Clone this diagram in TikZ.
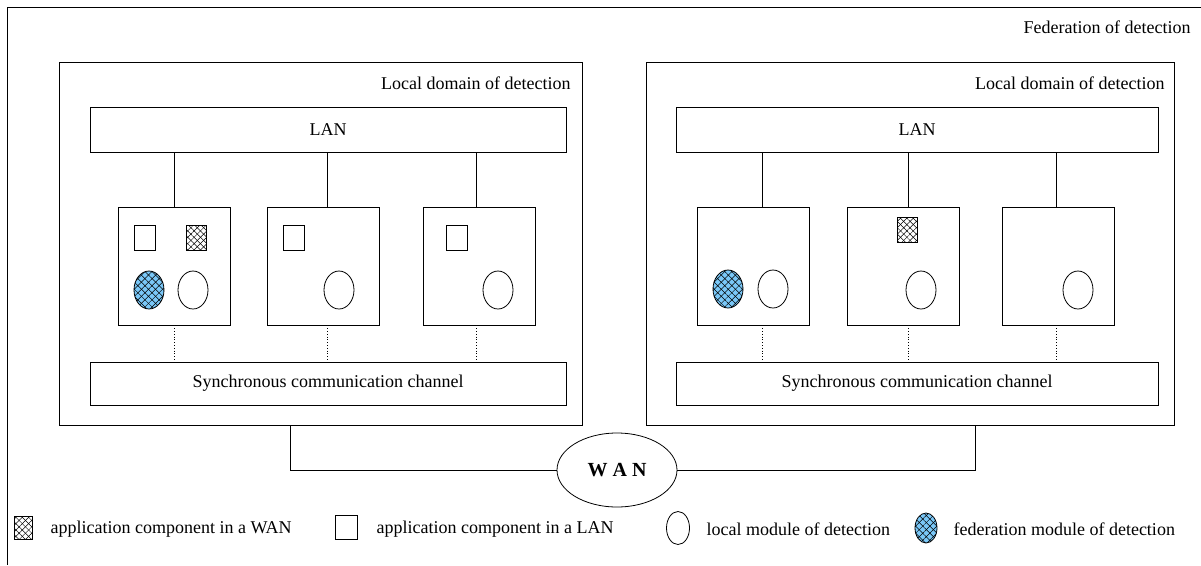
\documentclass[tikz,border=0pt]{standalone}
\usepackage{fontspec}
\setmainfont{Liberation Serif}
\usetikzlibrary{patterns.meta,shapes.geometric}

\definecolor{fedblue}{RGB}{122,200,248}

\tikzset{
  every node/.style={font=\fontsize{18}{21}\selectfont},
  frame/.style={draw, line width=0.8pt, inner sep=0pt},
  domainbox/.style={frame, anchor=north west, minimum height=363pt},
  busbox/.style={frame, minimum height=45pt},
  hostbox/.style={frame, minimum width=112pt, minimum height=118pt},
  lanapp/.style={frame, minimum width=21pt, minimum height=25pt},
  wanapp/.style={frame, minimum width=20pt, minimum height=25pt,
    pattern={Lines[angle=45,distance=4.5pt,line width=0.5pt]},
    postaction={pattern={Lines[angle=-45,distance=4.5pt,line width=0.5pt]}}},
  localmod/.style={frame, ellipse, minimum width=30pt, minimum height=38pt},
  fedmod/.style={localmod, fill=fedblue,
    postaction={pattern={Lines[angle=45,distance=5pt,line width=0.5pt]}},
    postaction={pattern={Lines[angle=-45,distance=5pt,line width=0.5pt]}}},
  link/.style={line width=0.8pt},
  sync/.style={dotted, line width=0.8pt},
}

\begin{document}
\begin{tikzpicture}[x=1pt,y=-1pt]
  \useasboundingbox (0,0) rectangle (1201,565);

  % federation frame
  \draw[line width=0.8pt] (1201,7) -- (7,7) -- (7,565);
  \node[anchor=east] (fedlabel) at (1194,27) {Federation of detection};

  % left local domain
  \node[domainbox, minimum width=523pt] (dl) at (59,62) {};
  \node[anchor=east] (dllabel) at (574,83) {Local domain of detection};
  \node[busbox, minimum width=476pt] (lanl) at (328,129.5) {LAN};
  \node[busbox, minimum width=476pt, minimum height=43pt] (syncl) at (328,383.5)
    {Synchronous communication channel};
  \node[hostbox] (hl1) at (174,266) {};
  \node[hostbox] (hl2) at (323,266) {};
  \node[hostbox] (hl3) at (479,266) {};
  \node[lanapp] (al1) at (144.5,237.5) {};
  \node[wanapp] (wl1) at (196,237.5) {};
  \node[fedmod] (fl1) at (149,290) {};
  \node[localmod] (ml1) at (193,290) {};
  \node[lanapp] (al2) at (293.5,237.5) {};
  \node[localmod] (ml2) at (339,290) {};
  \node[lanapp] (al3) at (456.5,237.5) {};
  \node[localmod] (ml3) at (498,290) {};
  \foreach \h/\x in {hl1/174,hl2/327,hl3/476}{
    \draw[link] (lanl.south -| \x,0) -- (\h.north -| \x,0);
    \draw[sync] (\h.south -| \x,0) -- (syncl.north -| \x,0);
  }

  % right local domain
  \node[domainbox, minimum width=528pt] (dr) at (646,62) {};
  \node[anchor=east] (drlabel) at (1168,83) {Local domain of detection};
  \node[busbox, minimum width=482pt] (lanr) at (917,129.5) {LAN};
  \node[busbox, minimum width=482pt, minimum height=43pt] (syncr) at (917,383.5)
    {Synchronous communication channel};
  \node[hostbox] (hr1) at (753,266) {};
  \node[hostbox] (hr2) at (903,266) {};
  \node[hostbox] (hr3) at (1058,266) {};
  \node[fedmod] (fr1) at (728,289) {};
  \node[localmod] (mr1) at (773,289) {};
  \node[wanapp] (wr2) at (907.5,230) {};
  \node[localmod] (mr2) at (921,290) {};
  \node[localmod] (mr3) at (1078,290) {};
  \foreach \h/\x in {hr1/762,hr2/908,hr3/1056}{
    \draw[link] (lanr.south -| \x,0) -- (\h.north -| \x,0);
    \draw[sync] (\h.south -| \x,0) -- (syncr.north -| \x,0);
  }

  % wide area network
  \node[frame, ellipse, minimum width=120pt, minimum height=74pt,
    font=\fontsize{20}{24}\selectfont\bfseries] (wan) at (617,470) {W A N};
  \coordinate (wanl) at (290,425);
  \coordinate (wanr) at (975,425);
  \draw[link] (wanl) |- (wan.west);
  \draw[link] (wan.east) -| (wanr);

  % legend
  \node[wanapp, minimum width=18pt, minimum height=23pt] (keywan) at (23,528) {};
  \node[anchor=west] (keywantext) at (47,529) {application component in a WAN};
  \node[lanapp, minimum width=22pt, minimum height=24pt] (keylan) at (346,527) {};
  \node[anchor=west] (keylantext) at (373,529) {application component in a LAN};
  \node[localmod, minimum width=23pt, minimum height=33pt] (keyloc) at (678,528) {};
  \node[anchor=west] (keyloctext) at (703,529) {local module of detection};
  \node[fedmod, minimum width=22pt, minimum height=30pt] (keyfed) at (926,528) {};
  \node[anchor=west] (keyfedtext) at (950,529) {federation module of detection};
\end{tikzpicture}
\end{document}
